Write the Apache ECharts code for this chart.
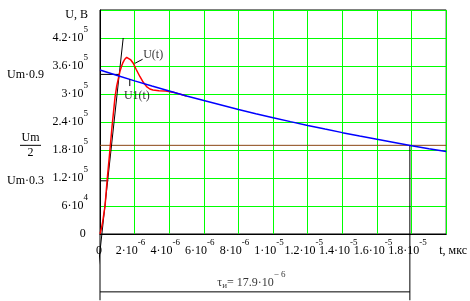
<!DOCTYPE html>
<html><head><meta charset="utf-8">
<script src="https://cdn.jsdelivr.net/npm/echarts@6/dist/echarts.min.js"></script>
<style>html,body{margin:0;padding:0;background:#fff}#c{width:470px;height:301px}</style>
</head><body><div id="c"></div>
<script>
// ---- data (time in microseconds, voltage in volts) ----
const xTickLabels = ['0','2·10^-6','4·10^-6','6·10^-6','8·10^-6','1·10^-5','1.2·10^-5','1.4·10^-5','1.6·10^-5','1.8·10^-5',''];
const yTickLabels = ['0','6·10^4','1.2·10^5','1.8·10^5','2.4·10^5','3·10^5','3.6·10^5','4.2·10^5',''];
const umLevels = [342000, 114000];
const umLevelLabels = ['Um·0.9', 'Um·0.3'];
const umHalfLevel = [190000];

const u1T = [0,1,2,3,4,5,6,7,8,9,10,11,12,13,14,15,16,17,18,19,20];
const u1V = [351400,339500,328100,317000,306300,295900,285900,276300,266900,257900,249200,240800,232700,224800,217200,209900,202800,196000,189300,182900,176800];

const uT = [0,0.06,0.15,0.29,0.42,0.55,0.7,0.87,0.96,1.06,1.15,1.23,1.31,1.42,1.54,1.65,1.78,1.92,2.1,2.31,2.5,2.69,2.88,3.06,3.4,3.8,4.3,5.0];
const uV = [0,8500,25000,60000,119000,170000,232000,294000,316000,333000,348000,358000,366000,374000,378600,377500,373000,366000,352000,337000,325000,316000,310700,308500,307000,306500,303000,295900];

const tangentT = [-0.15, 1.34];
const tangentV = [-88000, 420000];
const um09T = [0, 1.15];
const um09V = [342000, 342000];
const um03T = [0, 0.48];
const um03V = [114000, 114000];
const halfT = [0, 20];
const halfV = [190000, 190000];
const tauT = [17.9, 17.9];
const tauV = [190000, -142000];
const zeroT = [0, 0];
const zeroV = [0, -142000];
const spanT = [0, 17.9];
const spanV = [-124000, -124000];
const uPtrT = [2.02, 2.46];
const uPtrV = [365800, 374400];
const u1PtrT = [1.72, 1.72];
const u1PtrV = [331000, 317000];
const textT = [3.07, 2.13, 8.75];
const textV = [383600, 297000, -104000];
const textLabels = ['U(t)', 'U1(t)', 'tau'];

// ---- chart ----
const FONT = '"Liberation Serif","Times New Roman",serif';
const pairs = (a, b) => a.map((t, i) => [t, b[i]]);
function supRich(shiftRight) {
  return {
    m: {fontSize: 12, fontFamily: FONT, color: '#000', verticalAlign: 'middle'},
    s: {fontSize: 9, fontFamily: FONT, color: '#000', verticalAlign: 'top', padding: [0, shiftRight, 16, 0]},
    z: {fontSize: 9, fontFamily: FONT, color: '#000', verticalAlign: 'top', padding: [0, 0, 16, 0]}
  };
}
function supText(txt) {
  if (!txt) return '';
  const parts = txt.split('^');
  if (parts.length < 2) return '{m|' + parts[0] + '}{z| }';
  return '{m|' + parts[0] + '}{s|' + parts[1] + '}';
}
function seg(data, color, width, z) {
  return {type: 'line', data: data, symbol: 'none', showSymbol: false, clip: false,
    silent: true, animation: false, z: z, lineStyle: {color: color, width: width}};
}
const option = {
  animation: false,
  backgroundColor: '#fff',
  grid: {left: 100, right: 23, top: 10, bottom: 67, show: true, borderColor: '#000', borderWidth: 1, backgroundColor: 'transparent'},
  xAxis: {
    type: 'value', min: 0, max: 20, interval: 2,
    name: 't, мкс', nameLocation: 'end', nameGap: -7,
    nameTextStyle: {fontFamily: FONT, fontSize: 12, color: '#000', align: 'left', verticalAlign: 'top', padding: [11, 0, 0, 0]},
    axisLine: {show: true, onZero: false, lineStyle: {color: '#000', width: 1}},
    axisTick: {show: false},
    splitLine: {show: true, lineStyle: {color: '#00ff00', width: 1}},
    axisLabel: {margin: 4, color: '#000', fontFamily: FONT, fontSize: 12,
      formatter: (v) => supText(xTickLabels[Math.round(v / 2)]), rich: supRich(8)}
  },
  yAxis: [{
    type: 'value', min: 0, max: 480000, interval: 60000,
    name: 'U, В', nameLocation: 'end', nameGap: -5,
    nameTextStyle: {fontFamily: FONT, fontSize: 12, color: '#000', align: 'right', verticalAlign: 'middle', padding: [0, 12, 0, 0]},
    axisLine: {show: true, onZero: false, lineStyle: {color: '#000', width: 1}},
    axisTick: {show: false},
    splitLine: {show: true, lineStyle: {color: '#00ff00', width: 1}},
    axisLabel: {margin: 12, color: '#000', fontFamily: FONT, fontSize: 12,
      formatter: (v) => supText(yTickLabels[Math.round(v / 60000)]), rich: supRich(0)}
  }, {
    type: 'value', min: 0, max: 480000, position: 'left',
    axisLine: {show: false}, axisTick: {show: false}, splitLine: {show: false},
    axisLabel: {margin: 56, color: '#000', fontFamily: FONT, fontSize: 12, customValues: umLevels,
      formatter: (v) => umLevelLabels[umLevels.indexOf(v)] || ''}
  }, {
    type: 'value', min: 0, max: 480000, position: 'left',
    axisLine: {show: false}, axisTick: {show: false}, splitLine: {show: false},
    axisLabel: {margin: 59, color: '#000', fontFamily: FONT, fontSize: 12, customValues: umHalfLevel,
      formatter: () => '{n|Um}\n{bar| }\n{n|2}',
      rich: {
        n: {fontSize: 12, fontFamily: FONT, color: '#000', align: 'center'},
        bar: {width: 21, height: 1, lineHeight: 3, fontSize: 1, backgroundColor: '#000', align: 'center'}
      }}
  }],
  series: [
    seg(pairs(halfT, halfV), '#8b4513', 1, 2),
    seg(pairs(tauT, tauV), '#000', 1, 3),
    seg(pairs(zeroT, zeroV), '#000', 1, 3),
    seg(pairs(spanT, spanV), '#000', 1, 3),
    seg(pairs(um09T, um09V), '#000', 1, 3),
    seg(pairs(um03T, um03V), '#000', 1, 3),
    seg(pairs(tangentT, tangentV), '#000', 1, 4),
    seg(pairs(uT, uV), '#ff0000', 1.5, 5),
    seg(pairs(u1T, u1V), '#0000ff', 1.5, 6),
    seg(pairs(uPtrT, uPtrV), '#000', 1, 7),
    seg(pairs(u1PtrT, u1PtrV), '#000', 1, 7),
    {type: 'scatter', symbolSize: 0, clip: false, silent: true, animation: false, z: 8,
      data: pairs(textT, textV).map((p, i) => ({value: p, name: textLabels[i]})),
      label: {show: true, position: 'inside', color: '#000', fontFamily: FONT, fontSize: 12,
        formatter: (p) => p.name === 'tau' ? '{m|τ}{sub|и}{m|= 17.9·10}{s|− 6}' : p.name,
        rich: {
          m: {fontSize: 12, fontFamily: FONT, color: '#000', verticalAlign: 'middle'},
          sub: {fontSize: 9, fontFamily: FONT, color: '#000', verticalAlign: 'bottom', padding: [0, 0, 5, 0]},
          s: {fontSize: 9, fontFamily: FONT, color: '#000', verticalAlign: 'top', padding: [0, 0, 16, 0]}
        }}}
  ]
};
const chart = echarts.init(document.getElementById('c'), null, {renderer: 'canvas', width: 470, height: 301});
chart.setOption(option);
</script>
</body></html>
